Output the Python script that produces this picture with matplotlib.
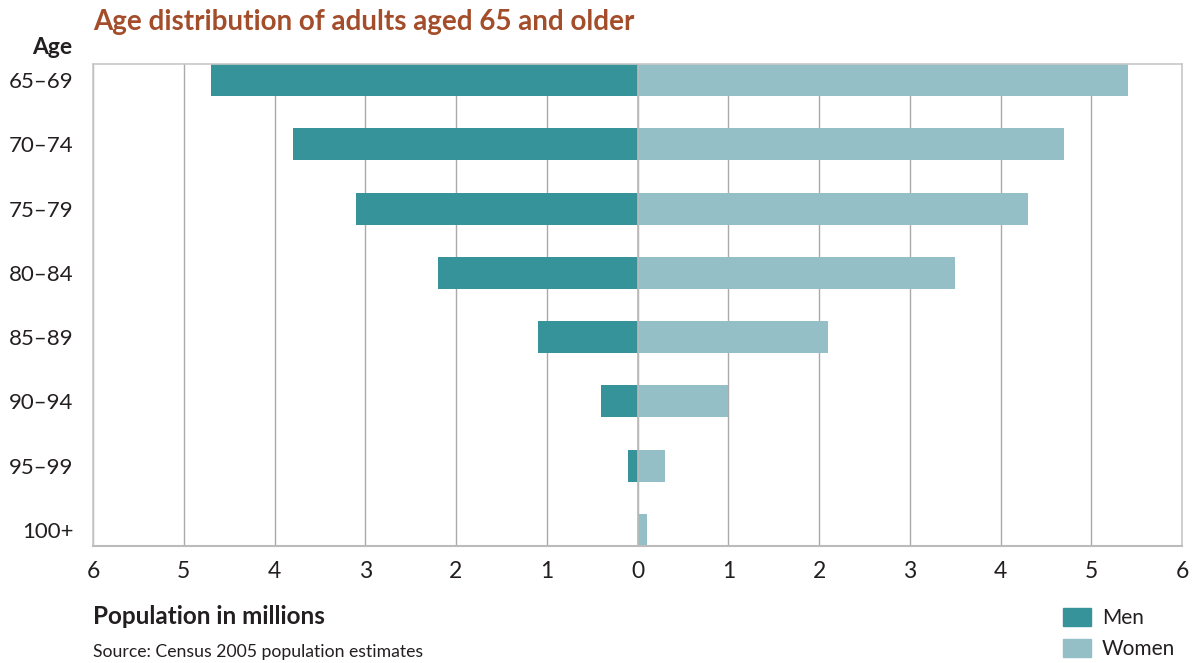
import matplotlib
matplotlib.use("Agg")
import matplotlib.pyplot as plt
from matplotlib.patches import Patch

ages = ["65–69", "70–74", "75–79", "80–84", "85–89", "90–94", "95–99", "100+"]
men = [4.7, 3.8, 3.1, 2.2, 1.1, 0.4, 0.1, 0.0]
women = [5.4, 4.7, 4.3, 3.5, 2.1, 1.0, 0.3, 0.1]
ticks = [-6, -5, -4, -3, -2, -1, 0, 1, 2, 3, 4, 5, 6]

MEN_C = "#36939a"
WOMEN_C = "#95bfc6"
TITLE_C = "#a34d2b"
TEXT_C = "#231f20"

plt.rcParams["font.family"] = ["Lato", "DejaVu Sans"]

fig = plt.figure(figsize=(12.02, 6.63), dpi=100)
ax = fig.add_axes([93 / 1202, 1 - 546 / 663, (1182 - 93) / 1202, (546 - 64) / 663])

y = list(range(len(ages)))
ax.barh(y, [-m for m in men], height=0.5, color=MEN_C, zorder=2, label="Men")
ax.barh(y, women, height=0.5, color=WOMEN_C, zorder=2, label="Women")

ax.set_xlim(-6, 6)
ax.set_ylim(len(ages) - 0.75, -0.25)
ax.set_xticks(ticks)
ax.set_xticklabels([str(abs(t)) for t in ticks], fontsize=16.5, color=TEXT_C)
ax.set_yticks(y)
ax.set_yticklabels(ages, fontsize=16, color=TEXT_C)
ax.tick_params(axis="y", length=0, pad=14)
ax.tick_params(axis="x", length=0, pad=11)
ax.grid(axis="x", color="#aaaaaa", lw=1.0, zorder=1)
ax.axvline(0, color="#bbbbbb", lw=1.2, zorder=3)
for s in ["top", "left", "right"]:
    ax.spines[s].set_color("#c8c8c8")
    ax.spines[s].set_linewidth(1.2)
ax.spines["bottom"].set_color("#bbbbbb")
ax.spines["bottom"].set_linewidth(1.5)

fig.text(93 / 1202, 1 - 22 / 663, "Age distribution of adults aged 65 and older",
         fontsize=20, color=TITLE_C, fontweight="bold", va="center", ha="left")
fig.text(72 / 1202, 1 - 48 / 663, "Age", fontsize=16.5, fontweight="bold",
         color=TEXT_C, va="center", ha="right")
fig.text(93 / 1202, 1 - 616 / 663, "Population in millions", fontsize=17.5,
         fontweight="bold", color=TEXT_C, va="center", ha="left")
fig.text(93 / 1202, 1 - 652 / 663, "Source: Census 2005 population estimates",
         fontsize=12.7, color=TEXT_C, va="center", ha="left")

handles = [Patch(color=MEN_C, label="Men"), Patch(color=WOMEN_C, label="Women")]
fig.legend(handles=handles, loc="lower right", bbox_to_anchor=(1194 / 1202, -0.022),
           frameon=False, fontsize=15, handlelength=1.3, handleheight=0.95,
           labelspacing=0.5, handletextpad=0.55, labelcolor=TEXT_C)

fig.savefig("out.png", dpi=100)
